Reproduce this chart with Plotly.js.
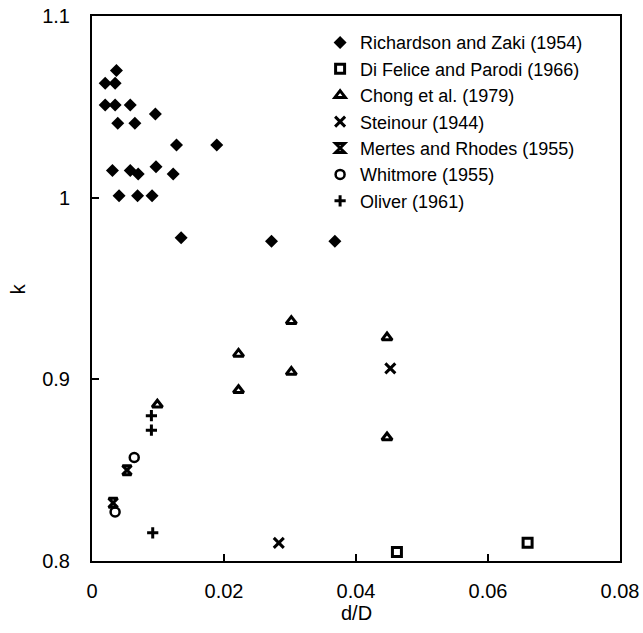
<!DOCTYPE html>
<html>
<head>
<meta charset="utf-8">
<script src="https://cdn.plot.ly/plotly-3.0.1.min.js"></script>
<style>html,body{margin:0;padding:0;background:#fff;}#chart{width:643px;height:633px;}</style>
</head>
<body>
<div id="chart"></div>
<script>
// Data
const seriesNames = [
  "Richardson and Zaki (1954)",
  "Di Felice and Parodi (1966)",
  "Chong et al. (1979)",
  "Steinour (1944)",
  "Mertes and Rhodes (1955)",
  "Whitmore (1955)",
  "Oliver (1961)"
];
const rzX = [0.0037,0.0020,0.0035,0.0020,0.0035,0.0058,0.0096,0.0039,0.0065,0.0128,0.0189,0.0031,0.0058,0.0070,0.0097,0.0123,0.0041,0.0069,0.0091,0.0135,0.0272,0.0368];
const rzY = [1.070,1.063,1.063,1.051,1.051,1.051,1.046,1.041,1.041,1.029,1.029,1.015,1.015,1.013,1.017,1.013,1.001,1.001,1.001,0.978,0.976,0.976];
const dfX = [0.0462,0.0660];
const dfY = [0.805,0.810];
const chX = [0.0099,0.0222,0.0222,0.0302,0.0302,0.0447,0.0447];
const chY = [0.886,0.914,0.894,0.932,0.904,0.923,0.868];
const stX = [0.0452,0.0283];
const stY = [0.906,0.810];
const mrX = [0.0053,0.0032];
const mrY = [0.850,0.832];
const whX = [0.0064,0.0035];
const whY = [0.857,0.827];
const olX = [0.0090,0.0090,0.0092];
const olY = [0.880,0.872,0.8155];
const xTicks = [0,0.02,0.04,0.06,0.08];
const xTickText = ["0","0.02","0.04","0.06","0.08"];
const yTicks = [0.8,0.9,1,1.1];
const yTickText = ["0.8","0.9","1","1.1"];
const xTitle = "d/D";
const yTitle = "k";

const FONT = "Liberation Sans, Arial, sans-serif";
function tr(name, x, y, symbol, size, lw) {
  return {
    type: "scatter", mode: "markers", name: name, x: x, y: y,
    marker: {symbol: symbol, size: size, color: "#000", line: {color: "#000", width: lw}},
    cliponaxis: false
  };
}
const data = [
  tr(seriesNames[0], rzX, rzY, "diamond", 10, 0),
  tr(seriesNames[1], dfX, dfY, "square-open", 9, 3),
  tr(seriesNames[2], chX, chY, "triangle-up-open", 9, 3),
  tr(seriesNames[3], stX, stY, "x-thin-open", 10, 3),
  tr(seriesNames[4], mrX, mrY, "hourglass-open", 9, 3),
  tr(seriesNames[5], whX, whY, "circle-open", 9, 2.5),
  tr(seriesNames[6], olX, olY, "cross-thin-open", 8, 3)
];
const axisCommon = {
  showgrid: false, zeroline: false, showline: true, linecolor: "#000", linewidth: 2,
  mirror: true, ticks: "inside", ticklen: 7, tickwidth: 2, tickcolor: "#000",
  tickfont: {family: FONT, size: 20, color: "#000"}
};
const layout = {
  width: 643, height: 633,
  margin: {l: 92, r: 23, t: 16, b: 72},
  paper_bgcolor: "#fff", plot_bgcolor: "#fff",
  font: {family: FONT, color: "#000"},
  showlegend: true,
  legend: {x: 0.432, y: 0.985, xanchor: "left", yanchor: "top", bgcolor: "rgba(0,0,0,0)",
           font: {family: FONT, size: 18, color: "#000"}, tracegroupgap: 0},
  xaxis: Object.assign({}, axisCommon, {
    range: [0, 0.08], tickvals: xTicks, ticktext: xTickText, ticklabelstandoff: 11
  }),
  yaxis: Object.assign({}, axisCommon, {
    range: [0.8, 1.1], tickvals: yTicks, ticktext: yTickText, ticklabelstandoff: 16
  }),
  annotations: [
    {text: xTitle, xref: "paper", yref: "paper", x: 0.5, y: -0.0954, xanchor: "center", yanchor: "middle",
     showarrow: false, font: {family: FONT, size: 20, color: "#000"}},
    {text: yTitle, xref: "paper", yref: "paper", x: -0.140, y: 0.499, xanchor: "center", yanchor: "middle",
     textangle: -90, showarrow: false, font: {family: FONT, size: 20, color: "#000"}}
  ]
};
Plotly.newPlot("chart", data, layout, {displayModeBar: false, staticPlot: true});
</script>
</body>
</html>
